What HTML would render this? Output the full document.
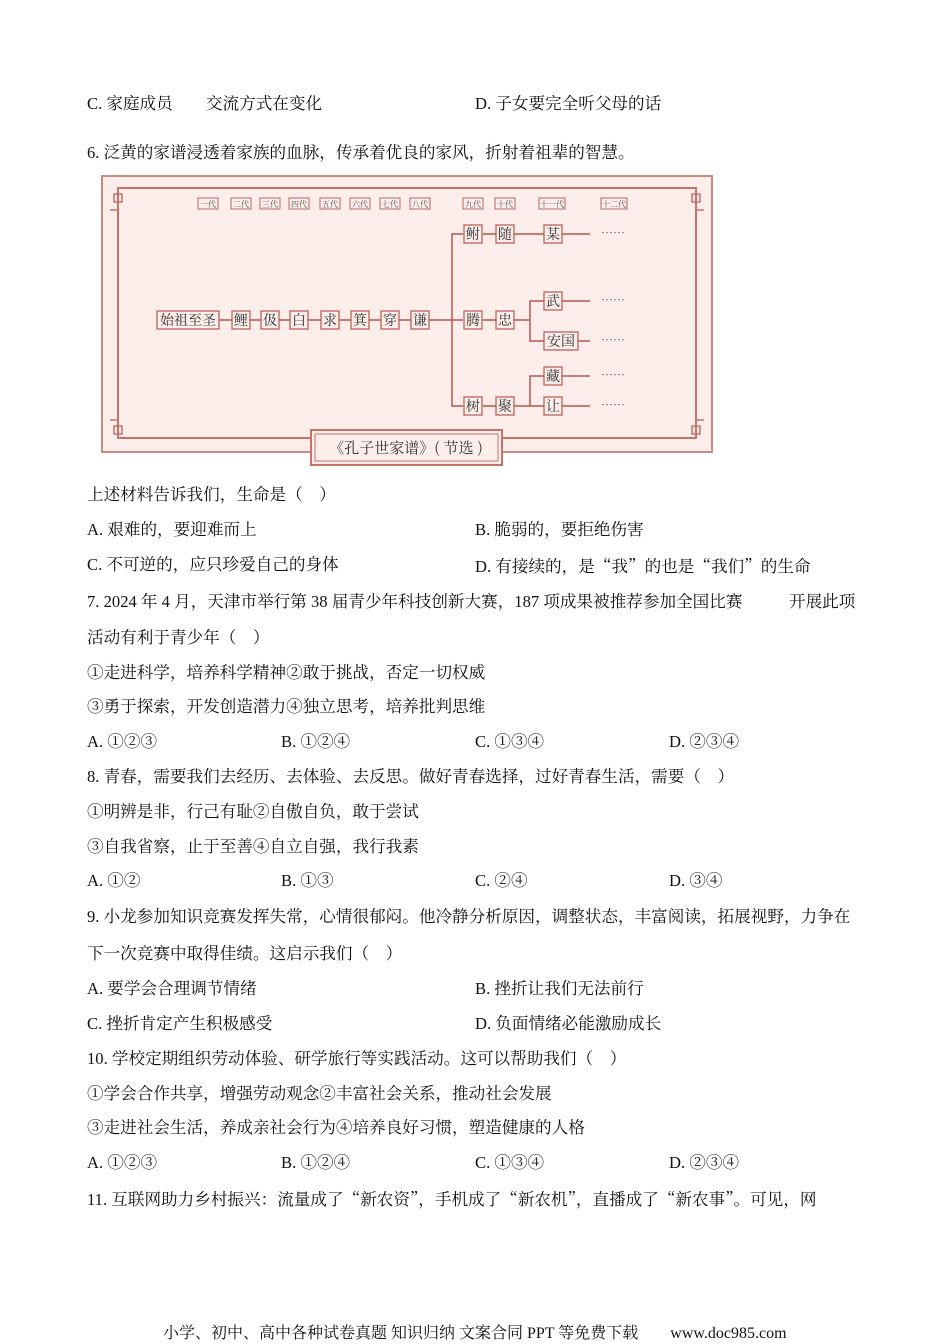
<!DOCTYPE html>
<html><head><meta charset="utf-8"><style>
body{margin:0;background:#fff;width:950px;height:1344px;position:relative;overflow:hidden;font-family:"Liberation Serif","Noto Serif CJK SC",serif;color:#111;}
.t{position:absolute;font-size:16.6px;line-height:20px;white-space:nowrap;}
.q{font-family:"Noto Serif CJK SC",serif;}
</style></head><body>
<div class="t" style="left:87px;top:94px">C. 家庭成员　　交流方式在变化</div>
<div class="t" style="left:475px;top:94px">D. 子女要完全听父母的话</div>
<div class="t" style="left:87px;top:143px">6. 泛黄的家谱浸透着家族的血脉，传承着优良的家风，折射着祖辈的智慧。</div>

<svg style="position:absolute;left:0;top:0" width="950" height="470" font-family="Noto Serif CJK SC, serif">
<rect x="102" y="176" width="610" height="276" fill="#fbeeea" stroke="#c98a80" stroke-width="2"/>
<rect x="118" y="188" width="578" height="250" fill="none" stroke="#c4726a" stroke-width="2"/>
<g fill="none" stroke="#c4726a" stroke-width="1.5">
<rect x="114" y="194" width="8" height="8"/><rect x="692" y="194" width="8" height="8"/>
<rect x="114" y="426" width="8" height="8"/><rect x="692" y="426" width="8" height="8"/>
<polyline points="110,210 118,210 118,192"/><polyline points="704,210 696,210 696,192"/>
<polyline points="110,420 118,420 118,432"/><polyline points="704,420 696,420 696,432"/>
</g>
<rect x="311" y="430" width="191" height="35" fill="#fbeeea" stroke="#c4726a" stroke-width="2"/>
<rect x="315" y="434" width="183" height="27" fill="none" stroke="#c4726a" stroke-width="1"/>
<text x="406" y="453" font-size="15" text-anchor="middle" fill="#333">《孔子世家谱》( 节选 )</text>
<g font-size="8" fill="#555" text-anchor="middle">
<g fill="none" stroke="#b56a62" stroke-width="1">
<rect x="198" y="198" width="20" height="11"/><rect x="231" y="198" width="20" height="11"/><rect x="260" y="198" width="20" height="11"/><rect x="289" y="198" width="20" height="11"/><rect x="320" y="198" width="20" height="11"/><rect x="350" y="198" width="20" height="11"/><rect x="380" y="198" width="20" height="11"/><rect x="410" y="198" width="20" height="11"/><rect x="463" y="198" width="20" height="11"/><rect x="495" y="198" width="20" height="11"/><rect x="539" y="198" width="26" height="11"/><rect x="601" y="198" width="26" height="11"/>
</g>
<text x="208" y="207">一代</text><text x="241" y="207">二代</text><text x="270" y="207">三代</text><text x="299" y="207">四代</text><text x="330" y="207">五代</text><text x="360" y="207">六代</text><text x="390" y="207">七代</text><text x="420" y="207">八代</text><text x="473" y="207">九代</text><text x="505" y="207">十代</text><text x="552" y="207">十一代</text><text x="614" y="207">十二代</text>
</g>
<g stroke="#b5574f" stroke-width="1.5" fill="none">
<line x1="219" y1="320" x2="463" y2="320"/>
<polyline points="463,234 452,234 452,406 463,406"/>
<line x1="483" y1="234" x2="545" y2="234"/><line x1="562" y1="234" x2="590" y2="234"/>
<line x1="483" y1="320" x2="530" y2="320"/>
<polyline points="545,301 530,301 530,341 545,341"/>
<line x1="562" y1="301" x2="590" y2="301"/><line x1="578" y1="341" x2="590" y2="341"/>
<line x1="483" y1="406" x2="545" y2="406"/>
<polyline points="545,376 530,376 530,406"/>
<line x1="562" y1="376" x2="590" y2="376"/><line x1="562" y1="406" x2="590" y2="406"/>
</g>
<g fill="#fbeeea" stroke="#b5574f" stroke-width="1.2">
<rect x="157" y="311" width="62" height="18"/>
<rect x="232" y="311" width="18" height="18"/><rect x="261" y="311" width="18" height="18"/><rect x="290" y="311" width="18" height="18"/><rect x="321" y="311" width="18" height="18"/><rect x="351" y="311" width="18" height="18"/><rect x="381" y="311" width="18" height="18"/><rect x="411" y="311" width="18" height="18"/>
<rect x="464" y="225" width="18" height="18"/><rect x="496" y="225" width="18" height="18"/><rect x="544" y="225" width="18" height="18"/>
<rect x="464" y="311" width="18" height="18"/><rect x="496" y="311" width="18" height="18"/>
<rect x="544" y="292" width="18" height="18"/><rect x="544" y="332" width="34" height="18"/>
<rect x="544" y="367" width="18" height="18"/>
<rect x="464" y="397" width="18" height="18"/><rect x="496" y="397" width="18" height="18"/><rect x="544" y="397" width="18" height="18"/>
</g>
<g font-size="14" fill="#333" text-anchor="middle">
<text x="188" y="325">始祖至圣</text>
<text x="241" y="325">鲤</text><text x="270" y="325">伋</text><text x="299" y="325">白</text><text x="330" y="325">求</text><text x="360" y="325">箕</text><text x="390" y="325">穿</text><text x="420" y="325">谦</text>
<text x="473" y="239">鲋</text><text x="505" y="239">随</text><text x="553" y="239">某</text>
<text x="473" y="325">腾</text><text x="505" y="325">忠</text>
<text x="553" y="306">武</text><text x="561" y="346">安国</text><text x="553" y="381">藏</text>
<text x="473" y="411">树</text><text x="505" y="411">聚</text><text x="553" y="411">让</text>
</g>
<g font-size="12" fill="#555">
<text x="601" y="237">……</text><text x="601" y="304">……</text><text x="601" y="344">……</text><text x="601" y="379">……</text><text x="601" y="409">……</text>
</g>
</svg>

<div class="t" style="left:87px;top:485px">上述材料告诉我们，生命是（　）</div>
<div class="t" style="left:87px;top:520px">A. 艰难的，要迎难而上</div>
<div class="t" style="left:475px;top:520px">B. 脆弱的，要拒绝伤害</div>
<div class="t" style="left:87px;top:555px">C. 不可逆的，应只珍爱自己的身体</div>
<div class="t" style="left:475px;top:555px">D. 有接续的，是<span class="q">“</span>我<span class="q">”</span>的也是<span class="q">“</span>我们<span class="q">”</span>的生命</div>
<div class="t" style="left:87px;top:592px">7. 2024 年 4 月，天津市举行第 38 届青少年科技创新大赛，187 项成果被推荐参加全国比赛</div>
<div class="t" style="left:789px;top:592px">开展此项</div>
<div class="t" style="left:87px;top:628px">活动有利于青少年（　）</div>
<div class="t" style="left:87px;top:663px">①走进科学，培养科学精神②敢于挑战，否定一切权威</div>
<div class="t" style="left:87px;top:697px">③勇于探索，开发创造潜力④独立思考，培养批判思维</div>
<div class="t" style="left:87px;top:732px">A. ①②③</div><div class="t" style="left:281px;top:732px">B. ①②④</div><div class="t" style="left:475px;top:732px">C. ①③④</div><div class="t" style="left:669px;top:732px">D. ②③④</div>
<div class="t" style="left:87px;top:767px">8. 青春，需要我们去经历、去体验、去反思。做好青春选择，过好青春生活，需要（　）</div>
<div class="t" style="left:87px;top:802px">①明辨是非，行己有耻②自傲自负，敢于尝试</div>
<div class="t" style="left:87px;top:837px">③自我省察，止于至善④自立自强，我行我素</div>
<div class="t" style="left:87px;top:871px">A. ①②</div><div class="t" style="left:281px;top:871px">B. ①③</div><div class="t" style="left:475px;top:871px">C. ②④</div><div class="t" style="left:669px;top:871px">D. ③④</div>
<div class="t" style="left:87px;top:907px">9. 小龙参加知识竞赛发挥失常，心情很郁闷。他冷静分析原因，调整状态，丰富阅读，拓展视野，力争在</div>
<div class="t" style="left:87px;top:944px">下一次竞赛中取得佳绩。这启示我们（　）</div>
<div class="t" style="left:87px;top:979px">A. 要学会合理调节情绪</div><div class="t" style="left:475px;top:979px">B. 挫折让我们无法前行</div>
<div class="t" style="left:87px;top:1014px">C. 挫折肯定产生积极感受</div><div class="t" style="left:475px;top:1014px">D. 负面情绪必能激励成长</div>
<div class="t" style="left:87px;top:1049px">10. 学校定期组织劳动体验、研学旅行等实践活动。这可以帮助我们（　）</div>
<div class="t" style="left:87px;top:1084px">①学会合作共享，增强劳动观念②丰富社会关系，推动社会发展</div>
<div class="t" style="left:87px;top:1118px">③走进社会生活，养成亲社会行为④培养良好习惯，塑造健康的人格</div>
<div class="t" style="left:87px;top:1153px">A. ①②③</div><div class="t" style="left:281px;top:1153px">B. ①②④</div><div class="t" style="left:475px;top:1153px">C. ①③④</div><div class="t" style="left:669px;top:1153px">D. ②③④</div>
<div class="t" style="left:87px;top:1188px">11. 互联网助力乡村振兴：流量成了<span class="q">“</span>新农资<span class="q">”</span>，手机成了<span class="q">“</span>新农机<span class="q">”</span>，直播成了<span class="q">“</span>新农事<span class="q">”</span>。可见，网</div>
<div class="t" style="left:163px;top:1324px;font-size:16px">小学、初中、高中各种试卷真题 知识归纳 文案合同 PPT 等免费下载　　www.doc985.com</div>
</body></html>
